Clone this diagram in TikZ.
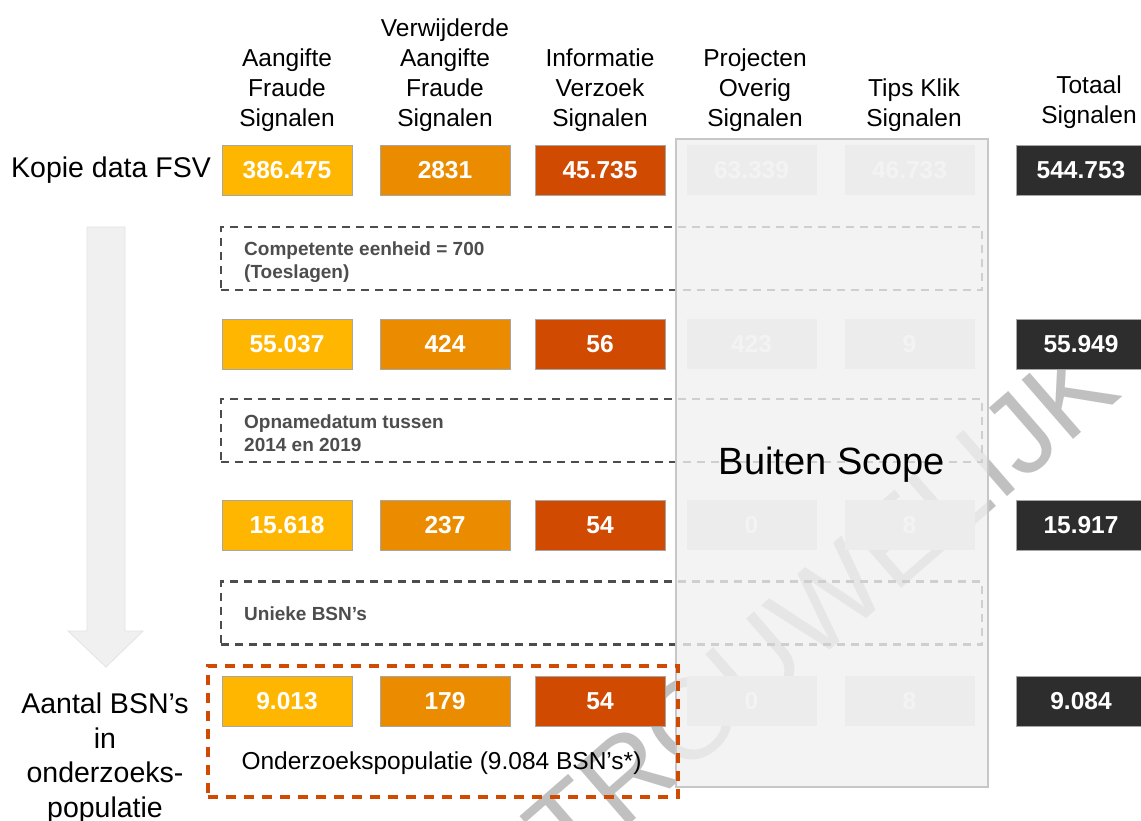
\documentclass[tikz,border=0pt]{standalone}
\usepackage{fontspec}
\setmainfont{Liberation Sans}
\definecolor{sigyellow}{HTML}{FFB600}
\definecolor{sigorange}{HTML}{EB8C00}
\definecolor{sigred}{HTML}{D04A02}
\definecolor{sigdark}{HTML}{2D2D2D}
\definecolor{dashgray}{HTML}{4D4D4D}
\definecolor{outgray}{HTML}{DEDEDE}
\definecolor{scopegray}{HTML}{F0F0F0}
\definecolor{markgray}{HTML}{C0C0C0}
\begin{document}
\begin{tikzpicture}[x=1pt, y=-1pt,
    numbox/.style={draw=black!35, line width=0.8pt, minimum width=130pt, minimum height=50pt,
        inner sep=0pt, text=white, font=\bfseries\fontsize{24.5}{28}\selectfont},
    aangbox/.style={numbox, fill=sigyellow},
    verwbox/.style={numbox, fill=sigorange},
    infobox/.style={numbox, fill=sigred},
    outbox/.style={numbox, draw=none, fill=outgray},
    totbox/.style={numbox, fill=sigdark},
    header/.style={anchor=south, align=center, inner sep=0pt, font=\fontsize{24.5}{30}\selectfont},
    rowlabel/.style={align=center, inner sep=0pt, font=\fontsize{28.5}{34.5}\selectfont},
    filterbox/.style={draw=dashgray, line width=2.2pt, dash pattern=on 8pt off 6pt,
        minimum width=761pt, minimum height=63pt, inner sep=0pt},
    filtertext/.style={anchor=west, align=left, inner sep=0pt, text=dashgray,
        font=\bfseries\fontsize{19}{23}\selectfont}]
    \useasboundingbox[fill=white] (0,0) rectangle (1141,821);

    % Watermark
    \node (mark) [rotate=41, inner sep=0pt, text=markgray, font=\fontsize{114}{114}\selectfont]
        at (733,683) {VERTROUWELIJK};

    % Arrow
    \draw[fill=black!6, draw=black!11, line width=0.8pt]
        (87,227) -- (125,227) -- (125,631) -- (143,631) -- (106,667) -- (68,631) -- (87,631) -- cycle;

    % Headers
    \node (hdaang) [header] at (287,132) {Aangifte\\Fraude\\Signalen};
    \node (hdverw) [header] at (445,132) {Verwijderde\\Aangifte\\Fraude\\Signalen};
    \node (hdinfo) [header] at (600,132) {Informatie\\Verzoek\\Signalen};
    \node (hdproj) [header] at (755,132) {Projecten\\Overig\\Signalen};
    \node (hdtips) [header] at (914,132) {Tips Klik\\Signalen};
    \node (hdtot) [header] at (1089,129) {Totaal\\Signalen};

    % Row labels
    \node (lbfsv) [rowlabel] at (111,170) {Kopie data FSV};
    \node (lbbsn) [rowlabel] at (105,758) {Aantal BSN's\\in\\onderzoeks-\\populatie};

    % Row 1
    \node (aang1) [aangbox] at (287,170) {386.475};
    \node (verw1) [verwbox] at (445,170) {2831};
    \node (info1) [infobox] at (600,170) {45.735};
    \node (proj1) [outbox] at (751.5,170) {63.339};
    \node (tips1) [outbox] at (909.5,170) {46.733};
    \node (tot1) [totbox] at (1081,170) {544.753};

    % Row 2
    \node (aang2) [aangbox] at (287,344) {55.037};
    \node (verw2) [verwbox] at (445,344) {424};
    \node (info2) [infobox] at (600,344) {56};
    \node (proj2) [outbox] at (751.5,344) {423};
    \node (tips2) [outbox] at (909.5,344) {9};
    \node (tot2) [totbox] at (1081,344) {55.949};

    % Row 3
    \node (aang3) [aangbox] at (287,525) {15.618};
    \node (verw3) [verwbox] at (445,525) {237};
    \node (info3) [infobox] at (600,525) {54};
    \node (proj3) [outbox] at (751.5,525) {0};
    \node (tips3) [outbox] at (909.5,525) {8};
    \node (tot3) [totbox] at (1081,525) {15.917};

    % Row 4
    \node (aang4) [aangbox] at (287,701) {9.013};
    \node (verw4) [verwbox] at (445,701) {179};
    \node (info4) [infobox] at (600,701) {54};
    \node (proj4) [outbox] at (751.5,701) {0};
    \node (tips4) [outbox] at (909.5,701) {8};
    \node (tot4) [totbox] at (1081,701) {9.084};

    % Filters
    \node (filt1) [filterbox] at (601.5,258.5) {};
    \node (filt2) [filterbox] at (601.5,430.5) {};
    \node (filt3) [filterbox] at (601.5,613) {};
    \node (filt1txt) [filtertext] at (244,262) {Competente eenheid = 700\\(Toeslagen)};
    \node (filt2txt) [filtertext] at (244,433) {Opnamedatum tussen\\2014 en 2019};
    \node (filt3txt) [filtertext] at (244,614) {Unieke BSN's};

    % Out of scope
    \node (scope) [draw=black!22, line width=1.2pt, fill=scopegray, fill opacity=0.8,
        minimum width=312pt, minimum height=648pt, inner sep=0pt] at (832,463) {};
    \node (scopetxt) [inner sep=0pt, font=\fontsize{38}{40}\selectfont] at (832,465) {Buiten Scope};

    % Population
    \node (popul) [draw=sigred, line width=3.3pt, dash pattern=on 10pt off 8pt,
        minimum width=470pt, minimum height=131pt, inner sep=0pt] at (443,731.5) {};
    \node (popultxt) [inner sep=0pt, font=\fontsize{24.5}{28}\selectfont] at (441.5,763) {Onderzoekspopulatie (9.084 BSN's*)};
\end{tikzpicture}
\end{document}
